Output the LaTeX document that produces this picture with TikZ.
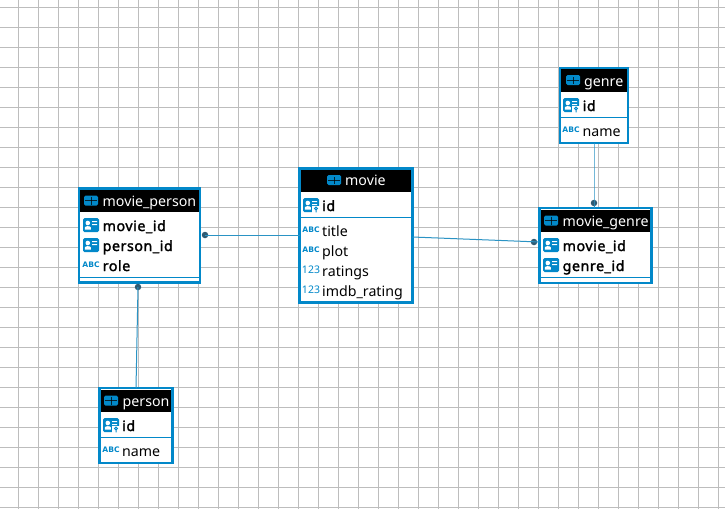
\documentclass[tikz,border=0pt]{standalone}
\usepackage{fontspec}
\setmainfont{Noto Sans}
\newfontfamily\boldf{Noto Sans}[FakeBold=2,LetterSpace=4]
\newfontfamily\abcfont{DejaVu Sans}
\definecolor{bluebd}{HTML}{0288C9}
\definecolor{rel}{HTML}{2A93C4}
\definecolor{dotc}{HTML}{2F5B73}
\definecolor{gridc}{HTML}{BDBDBD}
\definecolor{txt}{HTML}{000000}
\newcommand{\fs}{\fontsize{14.2}{15}\selectfont}
\tikzset{
  x=1pt,y=-1pt,
  tablebox/.style={draw=bluebd,line width=2.4pt,fill=white,inner sep=0pt,outer sep=0pt},
  sepline/.style={draw=bluebd,line width=1pt},
  htext/.style={anchor=base west,inner sep=0pt,text=white,font=\fs},
  ftext/.style={anchor=base west,inner sep=0pt,text=txt,font=\fs},
  ktext/.style={anchor=base west,inner sep=0pt,text=txt,font=\boldf\fs},
  smallabc/.style={inner sep=0pt,text=bluebd,font=\abcfont\fontsize{7.6}{8}\selectfont\bfseries},
  small123/.style={inner sep=0pt,text=bluebd,font=\fontsize{10.5}{11}\selectfont},
  relline/.style={draw=rel,line width=1pt},
  reldot/.style={circle,fill=dotc,inner sep=0pt,minimum size=6.5pt,outer sep=0pt},
  pics/tableicon/.style={code={
    \fill[bluebd,rounded corners=1.5pt] (-7,-5) rectangle (7,5);
    \fill[black,opacity=.75] (-6,-0.4) rectangle (6,0.4);
    \fill[black,opacity=.75] (-0.4,-3.5) rectangle (0.4,4);
  }},
  pics/keyicon/.style={code={
    \fill[bluebd,rounded corners=1.5pt] (-8,-7) rectangle (8,7);
    \fill[white] (-3.2,-2) circle (2.3);
    \fill[white] (-6.2,4.5) -- (-6.2,2.5) .. controls (-6,0.7) and (-0.4,0.7) .. (-0.2,2.5) -- (-0.2,4.5) -- cycle;
    \fill[white] (1.2,-4) rectangle (6,-2.8) (1.2,-1) rectangle (6,0.2);
  }},
  pics/pkicon/.style={code={
    \fill[bluebd,rounded corners=1.5pt] (-8,-7) rectangle (8,7);
    \fill[white] (-3.2,-2) circle (2.3);
    \fill[white] (-6.2,4.5) -- (-6.2,2.5) .. controls (-6,0.7) and (-0.4,0.7) .. (-0.2,2.5) -- (-0.2,4.5) -- cycle;
    \fill[white] (1.2,-4) rectangle (6,-2.8) (1.2,-1) rectangle (6,0.2);
    \fill[white] (1.4,1) rectangle (8.6,8);
    \draw[bluebd,line width=1pt] (5,3.4) circle (1.4) (5,4.8) -- (5,7.4);
  }},
}
\begin{document}
\begin{tikzpicture}
\useasboundingbox (0,0) rectangle (725,509);
\fill[white] (0,0) rectangle (725,509);
% grid
\foreach \gx in {0,...,35} {\draw[gridc,line width=1pt] ({18.5+20*\gx},0) -- ({18.5+20*\gx},509);}
\foreach \gy in {0,...,25} {\draw[gridc,line width=1pt] (0,{7.5+20*\gy}) -- (725,{7.5+20*\gy});}
% tables
\node[tablebox,minimum width=121pt,minimum height=94pt] (mp) at (139.5,235.5) {};
\node[tablebox,minimum width=113pt,minimum height=134pt] (movie) at (356,235.5) {};
\node[tablebox,minimum width=68pt,minimum height=75pt] (genre) at (594,105.5) {};
\node[tablebox,minimum width=112pt,minimum height=74.5pt] (mg) at (595.5,245.5) {};
\node[tablebox,minimum width=73pt,minimum height=74.5pt] (person) at (136,425.5) {};
% headers
\fill[black] (80.2,189.7) rectangle (198.8,212);
\fill[black] (300.7,169.7) rectangle (411.3,192);
\fill[black] (561.2,69.2) rectangle (626.8,92);
\fill[black] (540.7,209.7) rectangle (650.3,232);
\fill[black] (100.7,389.7) rectangle (171.3,412);
% separators
\draw[sepline] (mp.west |- 0,277.5) -- (mp.east |- 0,277.5);
\draw[sepline] (movie.west |- 0,217.5) -- (movie.east |- 0,217.5);
\draw[sepline] (genre.west |- 0,117.5) -- (genre.east |- 0,117.5);
\draw[sepline] (mg.west |- 0,277.5) -- (mg.east |- 0,277.5);
\draw[sepline] (person.west |- 0,437.5) -- (person.east |- 0,437.5);
% connectors
\node[reldot] (d1) at (205,235) {};
\node[reldot] (d2) at (138,287) {};
\node[reldot] (d3) at (534,242) {};
\node[reldot] (d4) at (594,203) {};
\draw[relline] (d1.center) -- (movie.west |- d1);
\draw[relline] (d2.center) -- (person.north);
\draw[relline] (movie.east |- 0,237) -- (mg.west |- 0,242);
\draw[relline] (genre.south) -- (d4.center) -- (mg.north -| d4);
% movie_person
\pic at (91,200.5) {tableicon};
\node[htext] (mpH) at (102.5,206) {movie\_person};
\pic at (91,225) {keyicon};
\node[ktext] (mpA) at (102.5,231) {movie\_id};
\pic at (91,245) {keyicon};
\node[ktext] (mpB) at (102.5,251) {person\_id};
\node[smallabc] (mpC1) at (91,264.5) {ABC};
\node[ktext] (mpC) at (102.5,271) {role};
% movie
\pic at (334,180) {tableicon};
\node[htext] (mH) at (345,185) {movie};
\pic at (311,205) {pkicon};
\node[ktext] (mA) at (322,211) {id};
\node[smallabc] (mB1) at (311,229.5) {ABC};
\node[ftext] (mB) at (322,236) {title};
\node[smallabc] (mC1) at (311,249.5) {ABC};
\node[ftext] (mC) at (322,256) {plot};
\node[small123] (mD1) at (311,270) {123};
\node[ftext] (mD) at (322,276) {ratings};
\node[small123] (mE1) at (311,290) {123};
\node[ftext] (mE) at (322,296) {imdb\_rating};
% genre
\pic at (573,80) {tableicon};
\node[htext] (gH) at (584,86) {genre};
\pic at (571,105) {pkicon};
\node[ktext] (gA) at (582.5,111) {id};
\node[smallabc] (gB1) at (571,129.5) {ABC};
\node[ftext] (gB) at (582.5,136) {name};
% movie_genre
\pic at (551,220.5) {tableicon};
\node[htext] (mgH) at (562.5,226) {movie\_genre};
\pic at (551,245) {keyicon};
\node[ktext] (mgA) at (562.5,251) {movie\_id};
\pic at (551,265) {keyicon};
\node[ktext] (mgB) at (562.5,271) {genre\_id};
% person
\pic at (111,400.5) {tableicon};
\node[htext] (pH) at (122.5,406) {person};
\pic at (111,425) {pkicon};
\node[ktext] (pA) at (122,431) {id};
\node[smallabc] (pB1) at (111,449.5) {ABC};
\node[ftext] (pB) at (122,456) {name};
\end{tikzpicture}
\end{document}
